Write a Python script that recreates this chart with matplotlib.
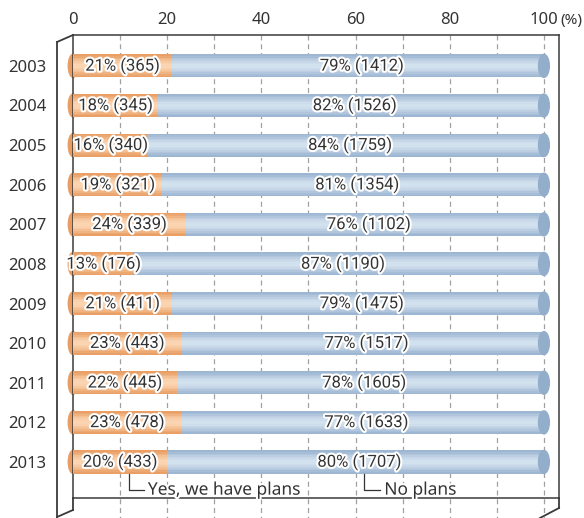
import matplotlib.pyplot as plt
import matplotlib.patheffects as pe
from matplotlib.patches import Ellipse
from matplotlib.transforms import ScaledTranslation
import numpy as np

years = ['2003', '2004', '2005', '2006', '2007', '2008', '2009', '2010', '2011', '2012', '2013']
yes_pct = [21, 18, 16, 19, 24, 13, 21, 23, 22, 23, 20]
yes_n = [365, 345, 340, 321, 339, 176, 411, 443, 445, 478, 433]
no_pct = [79, 82, 84, 81, 76, 87, 79, 77, 78, 77, 80]
no_n = [1412, 1526, 1759, 1354, 1102, 1190, 1475, 1517, 1605, 1633, 1707]
ticks = [0, 20, 40, 60, 80, 100]

W, H = 584, 518
fig = plt.figure(figsize=(W / 100, H / 100), dpi=100)

# axes box in pixels: left 73, right 559, top 35, bottom 498
ax = fig.add_axes([73 / W, 1 - 498 / H, (559 - 73) / W, (498 - 35) / H])
ax.set_xlim(0.42, 103.2)
ax.set_ylim(10.91, -0.78)

label_font = ['Roboto', 'DejaVu Sans']
axis_font = ['Noto Sans', 'DejaVu Sans']
txt_color = '#333333'
outline = [pe.withStroke(linewidth=3, foreground='white')]

# dashed grid, running a bit below the floor line
for g in range(10, 101, 10):
    ax.plot([g, g], [-0.78, 11.42], ls=(0, (4, 3)), color='#a0a0a0', lw=0.9,
            clip_on=False, zorder=1)


def blend(c1, c2, t):
    c1 = np.array(plt.matplotlib.colors.to_rgb(c1))
    c2 = np.array(plt.matplotlib.colors.to_rgb(c2))
    return c1 + (c2 - c1) * t


bar_h = 0.58
n_strips = 14
orange_edge, orange_mid = '#e99d64', '#fbd6b2'
blue_edge, blue_mid = '#9bb4d1', '#d3e1ee'

y = np.arange(len(years))
for i in range(len(years)):
    yes = yes_pct[i]
    no = no_pct[i]
    # rounded left end
    ax.add_patch(Ellipse((0, y[i]), 2.0, bar_h, color=orange_edge, zorder=2,
                         clip_on=False))
    for k in range(n_strips):
        frac = (k + 0.5) / n_strips
        t = np.sin(np.pi * frac) ** 1.5
        off = -bar_h / 2 + k * bar_h / n_strips
        ax.barh(y[i] + off, yes, height=bar_h / n_strips * 1.05, left=0,
                align='edge', color=blend(orange_edge, orange_mid, t), lw=0,
                zorder=3, clip_on=False)
        ax.barh(y[i] + off, no, height=bar_h / n_strips * 1.05, left=yes,
                align='edge', color=blend(blue_edge, blue_mid, t), lw=0,
                zorder=3, clip_on=False)
    # cylinder end cap
    ax.add_patch(Ellipse((yes + no, y[i]), 2.3, bar_h, color='#93aeca', zorder=4,
                         clip_on=False))

    ax.text(max(yes / 2, 4.8), y[i], f'{yes}% ({yes_n[i]})', ha='center', va='center',
            fontsize=12, color=txt_color, family=label_font, path_effects=outline,
            zorder=5)
    ax.text(yes + no / 2 + 0.8, y[i], f'{no}% ({no_n[i]})', ha='center', va='center',
            fontsize=12, color=txt_color, family=label_font, path_effects=outline,
            zorder=5)

# legend brackets under the last bar
leg_y = 10.72
ax.plot([11.8, 11.8, 15.0], [y[-1] + 0.3, leg_y, leg_y], color='#333333', lw=0.9,
        zorder=5, clip_on=False)
ax.text(15.9, leg_y - 0.02, 'Yes, we have plans', ha='left', va='center', fontsize=12.5,
        color=txt_color, family=axis_font, path_effects=outline, zorder=5)
ax.plot([61.7, 61.7, 65.2], [y[-1] + 0.3, leg_y, leg_y], color='#333333', lw=0.9,
        zorder=5, clip_on=False)
ax.text(66.1, leg_y - 0.02, 'No plans', ha='left', va='center', fontsize=12.5,
        color=txt_color, family=axis_font, path_effects=outline, zorder=5)

ax.set_yticks(y)
ax.set_yticklabels(years, family=axis_font, fontsize=12, color=txt_color)
ax.xaxis.tick_top()
ax.set_xticks(ticks)
ax.set_xticklabels([str(t) for t in ticks], family=axis_font, fontsize=12,
                   color=txt_color)
ax.tick_params(axis='both', length=0)
ax.tick_params(axis='x', pad=5)
ax.tick_params(axis='y', pad=19)
ax.text(105.8, -0.78, '(%)', ha='center', va='bottom', fontsize=11,
        color=txt_color, family=axis_font, clip_on=False,
        transform=ax.transData + ScaledTranslation(0, 5 / 72, fig.dpi_scale_trans))

for s in ax.spines.values():
    s.set_color('#3a3a3a')
    s.set_linewidth(1.1)
ax.patch.set_visible(False)

# 3D box edges drawn on a full-figure overlay in pixel units
ov = fig.add_axes([0, 0, 1, 1], zorder=-1)
ov.set_xlim(0, W)
ov.set_ylim(H, 0)
ov.axis('off')
edge = dict(color='#3a3a3a', lw=1.3)
ov.plot([57, 57], [42, 518], **edge)
ov.plot([57, 73], [42, 35], **edge)
ov.plot([73, 73], [498, 510], **edge)
ov.plot([57, 73], [517, 510], **edge)
ov.plot([559, 559], [498, 508], **edge)
ov.plot([559, 540], [508, 518], **edge)

fig.savefig('out.png', dpi=100)
